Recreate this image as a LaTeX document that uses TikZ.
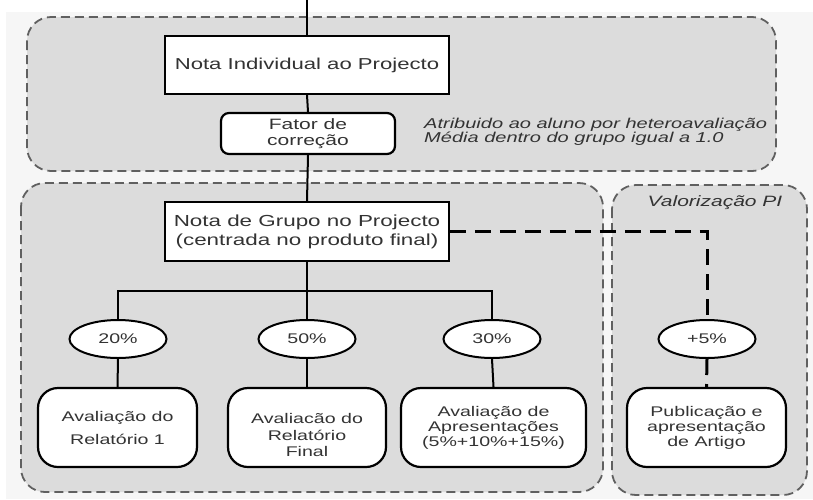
\documentclass[tikz,border=0pt]{standalone}
\usepackage{fontspec}
\setmainfont[FakeStretch=1.4]{Liberation Sans}
\usetikzlibrary{shapes.geometric}
\definecolor{bgout}{HTML}{F6F6F6}
\definecolor{panel}{HTML}{DCDCDC}
\definecolor{dashc}{HTML}{606060}
\definecolor{txt}{HTML}{333333}
\begin{document}
\begin{tikzpicture}[x=1pt,y=-1pt,
  panelbox/.style={draw=dashc, fill=panel, line width=1.8pt, dash pattern=on 9pt off 5pt, rounded corners=24pt},
  sqbox/.style={draw=black, fill=white, line width=1.8pt, minimum width=284pt, inner sep=0pt, align=center, text=txt},
  rbox/.style={draw=black, fill=white, line width=2.2pt, rounded corners=20pt, inner sep=0pt, align=center, text=txt},
  pct/.style={ellipse, draw=black, fill=white, line width=2pt, minimum width=97pt, minimum height=38pt, inner sep=0pt, text=txt, font=\fontsize{14}{15}\selectfont},
  conn/.style={draw=black, line width=2pt},
  dconn/.style={draw=black, line width=3pt, dash pattern=on 16pt off 9pt},
  boxtext/.style={align=center, text=txt, inner sep=0pt}]
\useasboundingbox (0,0) rectangle (813,499);
\fill[white] (0,0) rectangle (813,499);
\fill[bgout] (6,12) rectangle (813,499);
\draw[panelbox] (27,17) rectangle (776,171);
\draw[panelbox] (21,183) rectangle (603,492);
\draw[panelbox] (612,185) rectangle (807,495);

\coordinate (top) at (307,0);
\node[sqbox, minimum height=58pt, font=\fontsize{15.8}{19}\selectfont] (ind) at (307,65) {Nota Individual ao Projecto};
\node[rbox, rounded corners=8pt, minimum width=174pt, minimum height=41pt, font=\fontsize{15}{16}\selectfont] (fat) at (308,133.5) {Fator de\\correção};
\node[sqbox, minimum height=59pt, font=\fontsize{16}{19}\selectfont] (grp) at (307,231.5) {Nota de Grupo no Projecto\\(centrada no produto final)};
\coordinate (bar) at (307,291);

\node[pct] (e1) at (118,339) {20\%};
\node[pct] (e2) at (307,339) {50\%};
\node[pct] (e3) at (492,339) {30\%};
\node[pct] (e4) at (707,339) {+5\%};

\node[rbox, minimum width=159pt, minimum height=79pt, font=\fontsize{14}{23}\selectfont] (b1) at (117.5,427.5) {Avaliação do\\Relatório 1};
\node[rbox, minimum width=158pt, minimum height=79pt] (b2) at (307,427.5) {};
\node[boxtext, font=\fontsize{14}{16.5}\selectfont] (b2t) at (307,435) {Avaliacão do\\Relatório\\Final};
\node[rbox, minimum width=185pt, minimum height=79pt, font=\fontsize{14}{15}\selectfont] (b3) at (493.5,427.5) {Avaliação de\\Apresentações\\(5\%+10\%+15\%)};
\node[rbox, minimum width=159pt, minimum height=79pt, font=\fontsize{14}{15}\selectfont] (b4) at (706.5,427.5) {Publicação e\\apresentação\\de Artigo};

\node[anchor=west, align=left, text=txt, inner sep=0pt, font=\itshape\fontsize{14.3}{14.5}\selectfont] (note) at (424,132) {Atribuido ao aluno por heteroavaliação\\Média dentro do grupo igual a 1.0};
\node[text=txt, inner sep=0pt, font=\itshape\fontsize{15}{16}\selectfont] (val) at (715,203) {Valorização PI};

\draw[conn] (top) -- (ind.north);
\draw[conn] (ind.south) -- (fat.north);
\draw[conn] (fat.south) -- (grp.north);
\draw[conn] (grp.south) -- (e2.north);
\draw[conn] (e1.north) |- (bar) -| (e3.north);
\draw[conn] (e1.south) -- (b1.north);
\draw[conn] (e2.south) -- (b2.north);
\draw[conn] (e3.south) -- (b3.north);
\draw[dconn] (grp.east) -| (e4.north);
\draw[dconn] (e4.south) -- (b4.north);
\end{tikzpicture}
\end{document}
